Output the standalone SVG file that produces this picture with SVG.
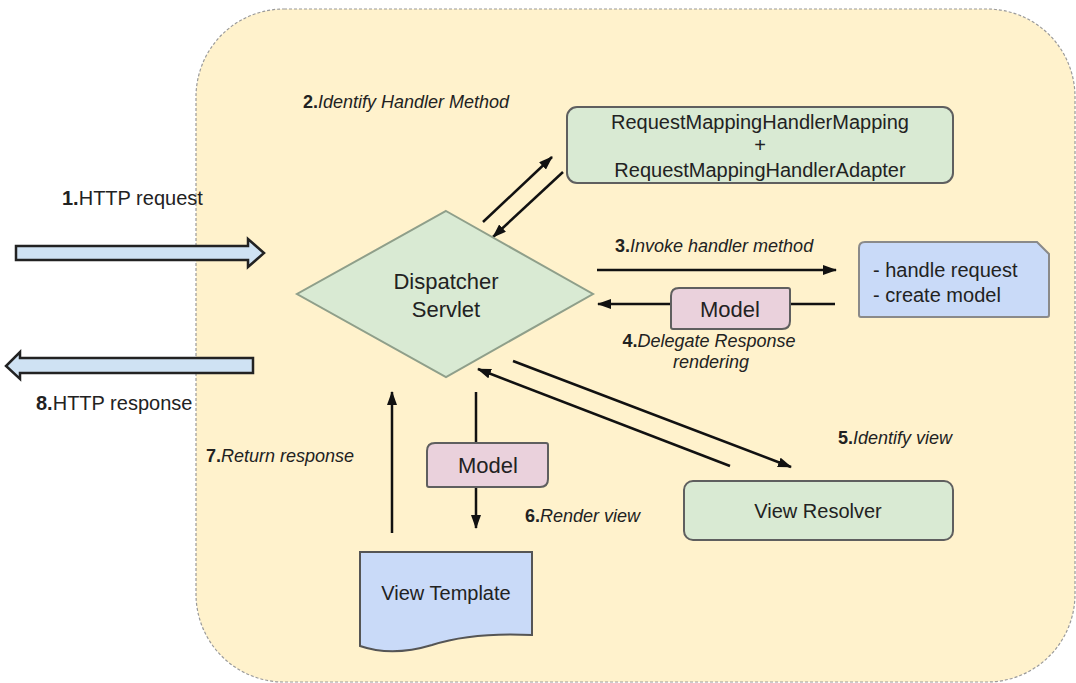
<svg xmlns="http://www.w3.org/2000/svg" width="1076" height="683" viewBox="0 0 1076 683">
<defs>
<marker id="ah" viewBox="0 0 14 10" refX="13" refY="5" markerWidth="14" markerHeight="10" orient="auto" markerUnits="userSpaceOnUse">
<path d="M0,0 L14,5 L0,10 Z" fill="#111"/>
</marker>
<style>
text{font-family:"Liberation Sans",Arial,sans-serif;fill:#222}
.lbl{font-size:18px;font-style:italic}
.lbl tspan.n{font-weight:bold;font-style:normal}
.big{font-size:20px}
.conn{stroke:#111;stroke-width:2.5;fill:none}
.green{fill:#d9ead3;stroke:#5f5f5f;stroke-width:2}
.pink{fill:#ead1dc;stroke:#5f5f5f;stroke-width:2}
.blue{fill:#c9daf8;stroke:#8a8a8a;stroke-width:2}
.harrow{fill:#cfe2f3;stroke:#222;stroke-width:2.5}
</style>
</defs>
<rect width="1076" height="683" fill="#ffffff"/>
<g id="container">
<rect x="196" y="9" width="879" height="673" rx="88" ry="88" fill="#fff2cc" stroke="#9a9a9a" stroke-width="1.2" stroke-dasharray="3,2"/>
</g>
<g id="http-request">
<path class="harrow" d="M16,246 H248 V239 L264,253 L248,267 V260 H16 Z"/>
<text x="62" y="205" class="big"><tspan font-weight="bold">1.</tspan>HTTP request</text>
</g>
<g id="http-response">
<path class="harrow" d="M253,358 H20 V352 L6,366 L20,379 V373 H253 Z"/>
<text x="36" y="410" class="big"><tspan font-weight="bold">8.</tspan>HTTP response</text>
</g>
<g id="connectors">
<line class="conn" x1="483" y1="222" x2="552" y2="157" marker-end="url(#ah)"/>
<line class="conn" x1="563" y1="172" x2="493" y2="237" marker-end="url(#ah)"/>
<line class="conn" x1="597" y1="270" x2="836" y2="270" marker-end="url(#ah)"/>
<line class="conn" x1="835" y1="304" x2="598" y2="304" marker-end="url(#ah)"/>
<line class="conn" x1="513" y1="361" x2="791" y2="467" marker-end="url(#ah)"/>
<line class="conn" x1="730" y1="466" x2="478" y2="369" marker-end="url(#ah)"/>
<line class="conn" x1="476" y1="392" x2="476" y2="528" marker-end="url(#ah)"/>
<line class="conn" x1="392" y1="533" x2="392" y2="392" marker-end="url(#ah)"/>
</g>
<g id="labels">
<text x="303" y="108" class="lbl"><tspan class="n">2.</tspan>Identify Handler Method</text>
<text x="615" y="252" class="lbl"><tspan class="n">3.</tspan>Invoke handler method</text>
<text x="709" y="347" class="lbl" text-anchor="middle"><tspan class="n">4.</tspan>Delegate Response</text>
<text x="711" y="368" class="lbl" text-anchor="middle">rendering</text>
<text x="838" y="444" class="lbl"><tspan class="n">5.</tspan>Identify view</text>
<text x="525" y="522" class="lbl"><tspan class="n">6.</tspan>Render view</text>
<text x="206" y="462" class="lbl"><tspan class="n">7.</tspan>Return response</text>
</g>
<g id="dispatcher-servlet">
<path d="M446,211 L593,294 L446,377 L297,294 Z" fill="#d9ead3" stroke="#8f9f8a" stroke-width="2"/>
<text x="446" y="289" font-size="22" text-anchor="middle">Dispatcher</text>
<text x="446" y="317" font-size="22" text-anchor="middle">Servlet</text>
</g>
<g id="handler-mapping">
<rect class="green" x="567" y="107" width="386" height="76" rx="10"/>
<text x="760" y="129" class="big" text-anchor="middle">RequestMappingHandlerMapping</text>
<text x="760" y="152" class="big" text-anchor="middle">+</text>
<text x="760" y="177" class="big" text-anchor="middle">RequestMappingHandlerAdapter</text>
</g>
<g id="handler-method">
<path class="blue" d="M865,242 H1037 L1049,254 V315 Q1049,317 1047,317 H861 Q859,317 859,315 V248 Q859,242 865,242 Z"/>
<text x="873" y="277" class="big">- handle request</text>
<text x="873" y="302" class="big">- create model</text>
</g>
<g id="model-1">
<path class="pink" d="M679,288 H788 Q790,288 790,290 V321 Q790,329 782,329 H673 Q671,329 671,327 V296 Q671,288 679,288 Z"/>
<text x="730" y="317" font-size="22" text-anchor="middle">Model</text>
</g>
<g id="model-2">
<path class="pink" d="M435,443 H546 Q548,443 548,445 V479 Q548,487 540,487 H429 Q427,487 427,485 V451 Q427,443 435,443 Z"/>
<text x="488" y="473" font-size="22" text-anchor="middle">Model</text>
</g>
<g id="view-resolver">
<rect class="green" x="684" y="481" width="269" height="59" rx="9"/>
<text x="818" y="518" class="big" text-anchor="middle">View Resolver</text>
</g>
<g id="view-template">
<path d="M360,552 H532 V635 Q472,632 432,645 Q392,657 360,646 Z" fill="#c9daf8" stroke="#555" stroke-width="2"/>
<text x="446" y="600" class="big" text-anchor="middle">View Template</text>
</g>
</svg>
